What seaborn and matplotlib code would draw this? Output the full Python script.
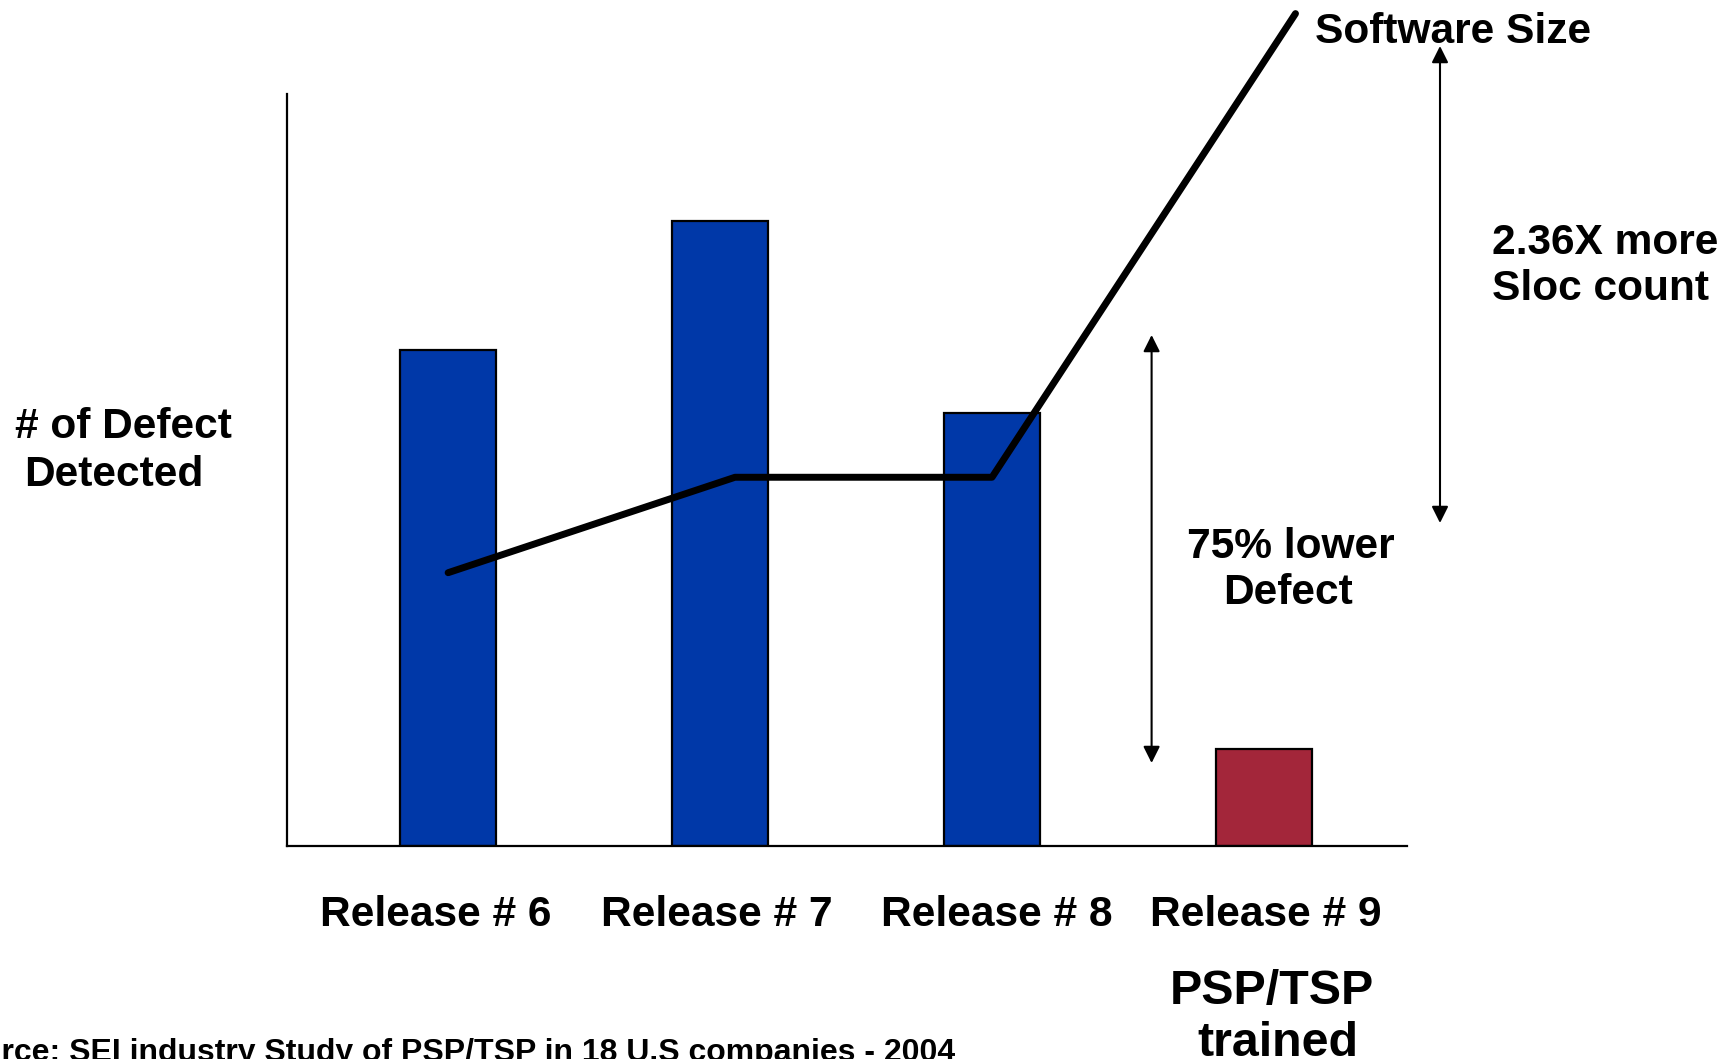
import matplotlib
matplotlib.use("Agg")
import matplotlib.pyplot as plt
import matplotlib.transforms as mtransforms
from matplotlib.patches import FancyArrowPatch
import seaborn as sns
import pandas as pd

# Defects detected per release (relative scale) and bar colours
releases = ["Release # 6", "Release # 7", "Release # 8", "Release # 9"]
defects = [66.0, 83.1, 57.5, 12.8]
bar_colors = ["#0038A8", "#0038A8", "#0038A8", "#A3263A"]

# Software size trend (relative scale), drawn over the bars
size_pos = [0.0, 1.055, 2.0, 3.116]
software_size = [36.3, 49.0, 49.0, 110.7]

W, H = 1733, 1059
sns.set_theme(style="white")
plt.rcParams["font.family"] = ["Liberation Sans", "DejaVu Sans"]
plt.rcParams["font.weight"] = "bold"

fig = plt.figure(figsize=(W / 100, H / 100), dpi=100)
fig.patch.set_facecolor("white")


def px(x, y):
    return x / W, 1 - y / H


left, right, bottom, top = 287.4, 1407.0, 845.5, 94.0
rect = [left / W, 1 - bottom / H, (right - left) / W, (bottom - top) / H]
xlim = (-0.591, 3.526)

ax = fig.add_axes(rect)
df = pd.DataFrame({"release": releases, "defects": defects})
sns.barplot(data=df, x="release", y="defects", hue="release",
            palette=bar_colors, legend=False, width=0.354, saturation=1,
            edgecolor="black", linewidth=1.6, ax=ax)
ax.set_xlim(*xlim)
ax.set_ylim(0, 100)
ax.set_xlabel("")
ax.set_ylabel("")
ax.set_yticks([])
for side in ("top", "right"):
    ax.spines[side].set_visible(False)
for side in ("left", "bottom"):
    ax.spines[side].set_color("black")
    ax.spines[side].set_linewidth(1.6)
ax.tick_params(axis="x", length=0, pad=36, labelsize=30.6, labelcolor="black")
# small horizontal nudges of the release labels (pixels)
nudges = [-12.7, -3.3, 4.4, 1.7]
for lab, dx in zip(ax.get_xticklabels(), nudges):
    lab.set_fontweight("bold")
    lab.set_transform(lab.get_transform() + mtransforms.ScaledTranslation(
        dx / 100, 0, fig.dpi_scale_trans))

# Overlay axes for the software size line
lx = fig.add_axes(rect, zorder=3)
lx.set_xlim(*xlim)
lx.set_ylim(0, 100)
lx.axis("off")
sns.lineplot(x=size_pos, y=software_size, color="black", linewidth=5,
             clip_on=False, ax=lx)


def label(x, y, s, size=30.6, ha="left"):
    fig.text(*px(x, y), s, fontsize=size, fontweight="bold", color="black",
             ha=ha, va="baseline")


label(1315, 43, "Software Size")
label(1492, 254, "2.36X more")
label(1492, 300, "Sloc count")
label(1291, 558, "75% lower", ha="center")
label(1288, 604, "Defect", ha="center")
label(15.5, 438, "# of Defect")
label(24.3, 486, "Detected")
label(1272, 1004, "PSP/TSP", size=34.8, ha="center")
label(1278, 1056, "trained", size=34.8, ha="center")
label(955, 1061, "Source: SEI industry Study of PSP/TSP in 18 U.S companies - 2004",
      size=23, ha="right")

# Double-headed arrows marking the two comparisons
arrow = dict(arrowstyle="<|-|>,head_length=0.5,head_width=0.25", color="black",
             lw=1.5, mutation_scale=20, shrinkA=0, shrinkB=0,
             transform=fig.transFigure)
fig.add_artist(FancyArrowPatch(px(1151.6, 335), px(1151.6, 763), **arrow))
fig.add_artist(FancyArrowPatch(px(1440, 46), px(1440, 523), **arrow))

fig.savefig("out.png", dpi=100, facecolor="white")
